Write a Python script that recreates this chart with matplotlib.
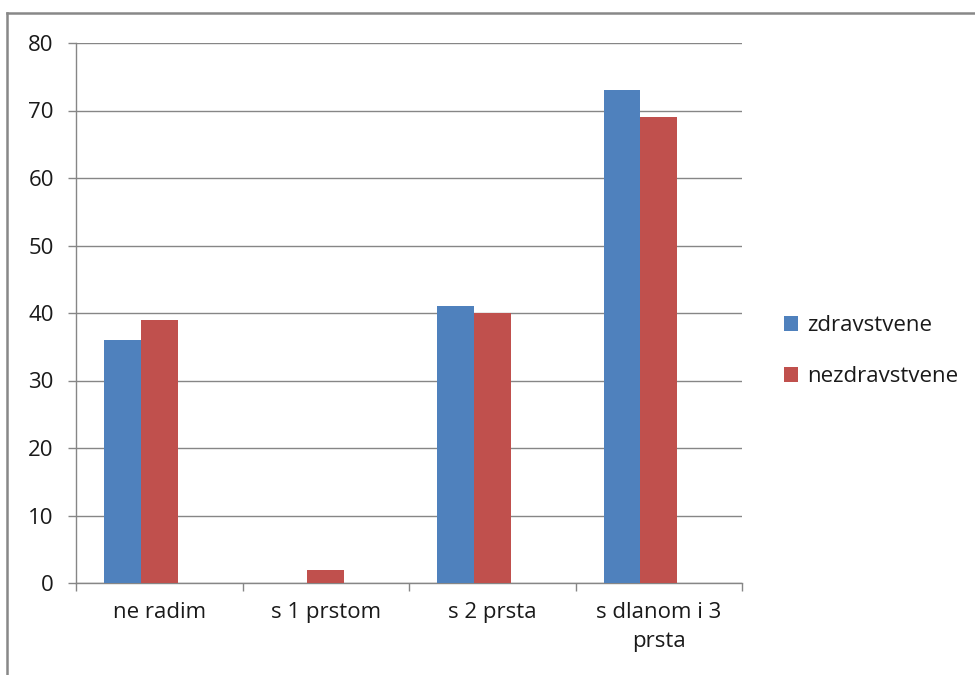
import numpy as np
import matplotlib.pyplot as plt
from matplotlib.lines import Line2D

# categories and the two series
categories = ["ne radim", "s 1 prstom", "s 2 prsta", "s dlanom i 3\nprsta"]
zdravstvene = [36, 0, 41, 73]
nezdravstvene = [39, 2, 40, 69]
series_names = ["zdravstvene", "nezdravstvene"]
yticks = [0, 10, 20, 30, 40, 50, 60, 70, 80]

plt.rcParams['font.family'] = ['Open Sans', 'DejaVu Sans']

W, H = 975, 675
fig = plt.figure(figsize=(W / 100, H / 100), dpi=100)
ax = fig.add_axes([76 / W, 1 - 583 / H, (742 - 76) / W, (583 - 43) / H])

x = np.arange(len(categories))
bw = 0.22
# second series sits on the category centre, first one just left of it
ax.bar(x - bw, zdravstvene, bw, color='#4F81BD', label=series_names[0], zorder=3)
ax.bar(x, nezdravstvene, bw, color='#C0504D', label=series_names[1], zorder=3)

ax.set_xlim(-0.5, len(categories) - 0.5)
ax.set_ylim(0, 80)
ax.set_yticks(yticks)
ax.yaxis.grid(True, color='#868686', linewidth=1, zorder=0)

fs = 16
ax.set_xticks(x)
ax.set_xticklabels(categories, fontsize=fs, color='#1a1a1a', linespacing=1.45)
ax.set_xticks(np.arange(len(categories) + 1) - 0.5, minor=True)
ax.tick_params(axis='x', which='major', length=0, pad=14)
ax.tick_params(axis='x', which='minor', length=6, color='#868686', width=1)
ax.tick_params(axis='y', length=6, color='#868686', width=1, pad=10,
               labelsize=fs, labelcolor='#1a1a1a')

for s in ['top', 'right']:
    ax.spines[s].set_visible(False)
for s in ['left', 'bottom']:
    ax.spines[s].set_color('#868686')
    ax.spines[s].set_linewidth(1)

leg = fig.legend(loc='center left', bbox_to_anchor=(764 / W, 1 - 351 / H),
                 frameon=False, fontsize=fs, handlelength=0.65, handleheight=0.65,
                 handletextpad=0.4, labelspacing=1.35)
for t in leg.get_texts():
    t.set_color('#1a1a1a')

# outer chart frame
fig.add_artist(Line2D([7 / W, 7 / W], [0, 1 - 13 / H], transform=fig.transFigure,
                      color='#888888', linewidth=1.8))
fig.add_artist(Line2D([7 / W, 1], [1 - 13 / H, 1 - 13 / H], transform=fig.transFigure,
                      color='#888888', linewidth=1.8))

fig.savefig("out.png", dpi=100)
